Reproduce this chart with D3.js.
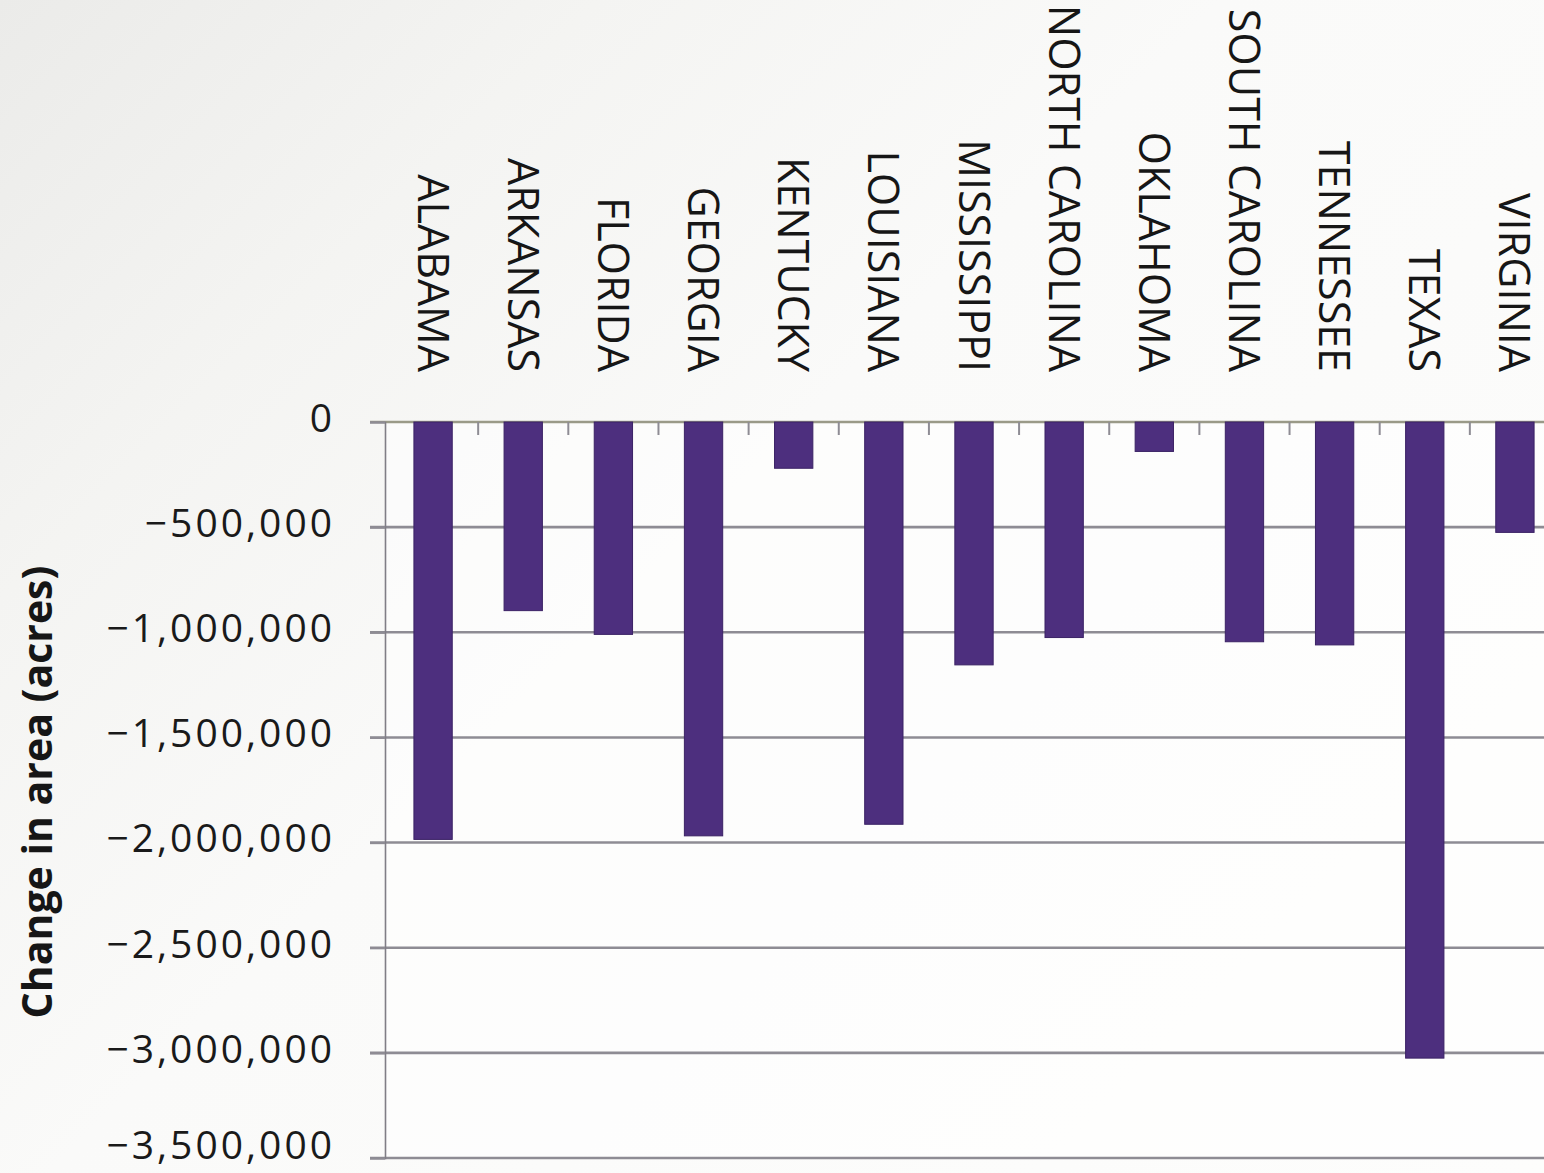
<!DOCTYPE html>
<html>
<head>
<meta charset="utf-8">
<script src="https://cdn.jsdelivr.net/npm/d3@7"></script>
<style>
  html, body { margin: 0; padding: 0; }
  body {
    width: 1544px; height: 1173px; overflow: hidden;
    background: linear-gradient(135deg, #ebebe9 0%, #f4f4f2 22%, #fafaf9 45%, #fdfdfc 100%);
  }
  svg { display: block; }
</style>
</head>
<body>
<svg id="chart" width="1544" height="1173"></svg>
<script>
// ---- data ----
const states = ["ALABAMA", "ARKANSAS", "FLORIDA", "GEORGIA", "KENTUCKY", "LOUISIANA",
  "MISSISSIPPI", "NORTH CAROLINA", "OKLAHOMA", "SOUTH CAROLINA", "TENNESSEE", "TEXAS", "VIRGINIA"];
const changeAcres = [-1985000, -897000, -1010000, -1968000, -220000, -1913000,
  -1155000, -1025000, -140000, -1045000, -1060000, -3025000, -525000];
const yTicks = [0, -500000, -1000000, -1500000, -2000000, -2500000, -3000000, -3500000];
const yTitle = "Change in area (acres)";

// ---- layout ----
const svg = d3.select("#chart");
const axisX = 385, plotLeft = 388, plotRight = 1560, plotTop = 422, plotBottom = 1158;

const x = d3.scaleBand().domain(states).range([plotLeft, plotRight])
  .paddingInner(0.575).paddingOuter(0.2875);
const y = d3.scaleLinear().domain([-3500000, 0]).range([plotBottom, plotTop]);
const step = x.step(), bw = x.bandwidth();

// plot background
svg.append("rect").attr("x", axisX).attr("y", plotTop)
  .attr("width", plotRight - axisX).attr("height", plotBottom - plotTop)
  .attr("fill", "#ffffff").attr("opacity", 0.55);

// gridlines
const gridColor = "#8e8c94";
svg.append("g").selectAll("line").data(yTicks).join("line")
  .attr("x1", axisX - 15).attr("x2", plotRight)
  .attr("y1", d => y(d)).attr("y2", d => y(d))
  .attr("stroke", d => d === 0 ? "#9a9a88" : gridColor)
  .attr("stroke-width", 2.6);

// y axis
const fmt = d3.format(",");
const yMin = d3.min(yTicks);
const yAxis = svg.append("g").attr("transform", `translate(${axisX},0)`)
  .call(d3.axisLeft(y).tickValues(yTicks).tickSize(15).tickPadding(35).tickFormat(d => fmt(d)));
yAxis.select(".domain").attr("stroke", "#807e86").attr("stroke-width", 1.6);
yAxis.selectAll(".tick line").attr("stroke", gridColor).attr("stroke-width", 2.2);
yAxis.selectAll(".tick text")
  .attr("fill", "#1a1a1a")
  .style("font-family", "'Open Sans', sans-serif")
  .style("font-size", "39px")
  .style("letter-spacing", "3px")
  .attr("dy", d => d === yMin ? "0.02em" : "0.24em");

// category boundary ticks (pointing down from the zero line)
svg.append("g").selectAll("line").data(states.slice(1)).join("line")
  .attr("x1", d => x(d) - (step - bw) / 2).attr("x2", d => x(d) - (step - bw) / 2)
  .attr("y1", y(0)).attr("y2", y(0) + 13)
  .attr("stroke", gridColor).attr("stroke-width", 2);

// bars
svg.append("g").selectAll("rect").data(states).join("rect")
  .attr("x", d => x(d))
  .attr("y", y(0))
  .attr("width", bw)
  .attr("height", (d, i) => y(changeAcres[i]) - y(0))
  .attr("fill", "#4d2f7e")
  .attr("stroke", "#3b2265").attr("stroke-width", 1);

// category labels (rotated, reading top to bottom)
svg.append("g").selectAll("text").data(states).join("text")
  .attr("transform", d => `translate(${x(d) + bw / 2 - 15.5},372) rotate(90)`)
  .attr("text-anchor", "end")
  .attr("fill", "#161616")
  .style("font-family", "'Open Sans', sans-serif")
  .style("font-size", "43px")
  .text(d => d);

// y title
svg.append("text")
  .attr("transform", "translate(52,792) rotate(-90)")
  .attr("text-anchor", "middle")
  .attr("fill", "#161616")
  .style("font-family", "'Open Sans', sans-serif")
  .style("font-weight", "700")
  .style("font-size", "41px")
  .text(yTitle);
</script>
</body>
</html>
